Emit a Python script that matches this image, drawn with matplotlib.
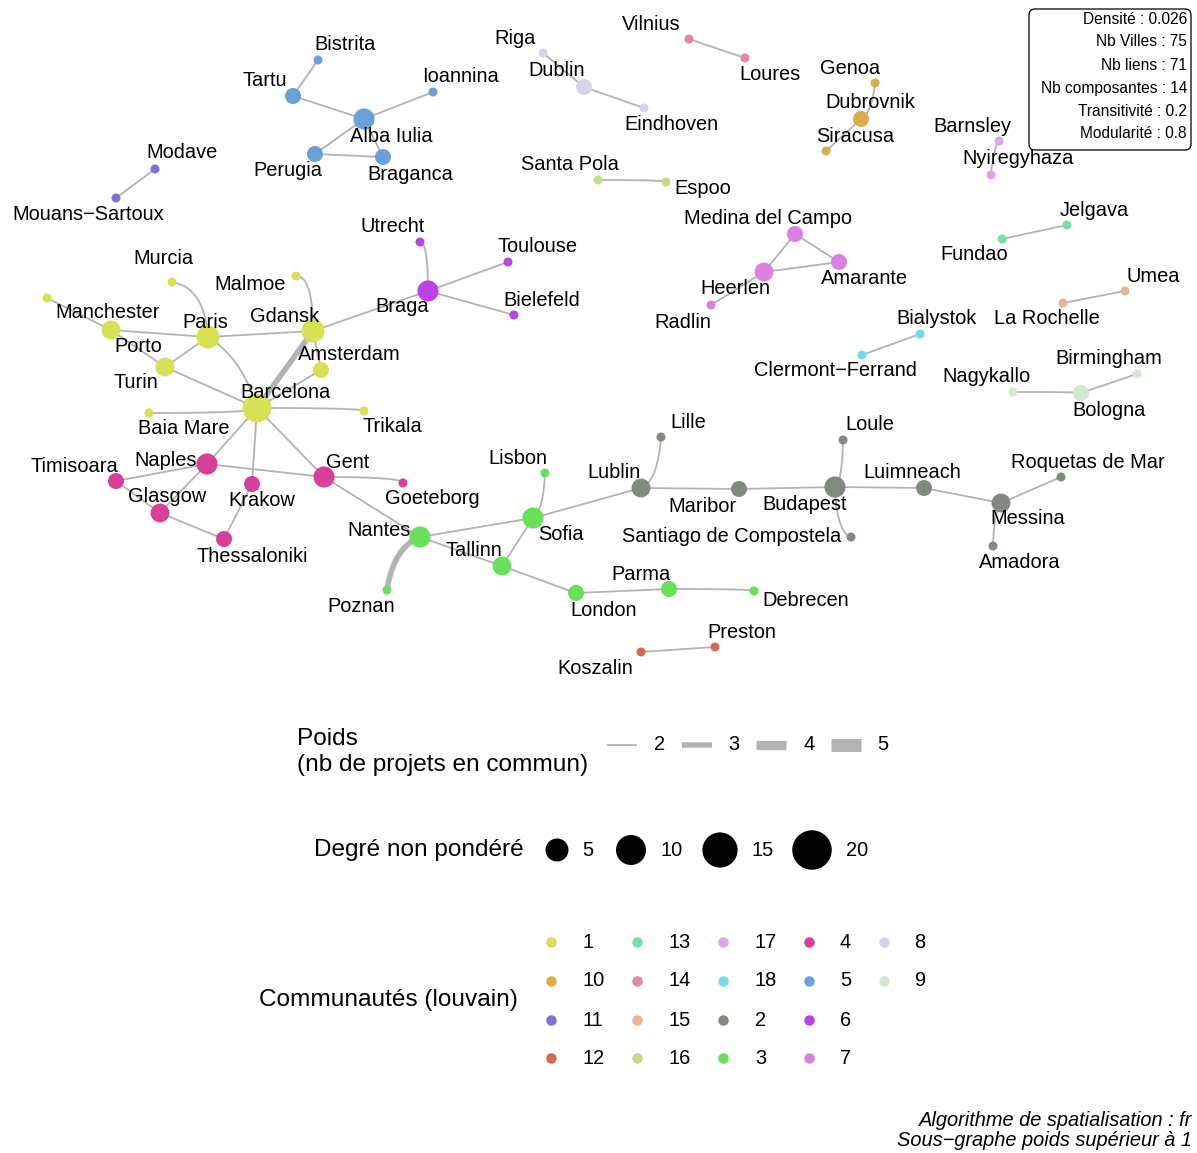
import numpy as np
import matplotlib
matplotlib.use("Agg")
import matplotlib.pyplot as plt
from matplotlib.patches import FancyBboxPatch

plt.rcParams['font.family'] = ['Liberation Sans', 'DejaVu Sans']

# --- data : villes (coordonnées du layout), communautés, liens ---
cities = ["Bistrita", "Tartu", "Alba Iulia", "Ioannina", "Perugia", "Braganca",
          "Modave", "Mouans-Sartoux",
          "Riga", "Dublin", "Eindhoven",
          "Vilnius", "Loures",
          "Genoa", "Dubrovnik", "Siracusa",
          "Barnsley", "Nyiregyhaza",
          "Santa Pola", "Espoo",
          "Medina del Campo", "Amarante", "Heerlen", "Radlin",
          "Fundao", "Jelgava",
          "La Rochelle", "Umea",
          "Clermont-Ferrand", "Bialystok",
          "Nagykallo", "Bologna", "Birmingham",
          "Koszalin", "Preston",
          "Utrecht", "Braga", "Toulouse", "Bielefeld",
          "Murcia", "Malmoe", "Manchester", "Porto", "Paris", "Turin", "Gdansk",
          "Amsterdam", "Barcelona", "Baia Mare", "Trikala",
          "Naples", "Timisoara", "Glasgow", "Krakow", "Thessaloniki", "Gent", "Goeteborg",
          "Nantes", "Poznan", "Sofia", "Lisbon", "Tallinn", "London", "Parma", "Debrecen",
          "Lublin", "Lille", "Maribor", "Budapest", "Loule", "Santiago de Compostela",
          "Luimneach", "Messina", "Roquetas de Mar", "Amadora"]
node_x = [318, 293, 364, 433, 315, 383,
          155, 116,
          543, 584, 644,
          689, 745,
          875, 861, 826,
          999, 991,
          598, 666,
          795, 839, 764, 711,
          1002, 1067,
          1063, 1125,
          862, 920,
          1013, 1081, 1137,
          641, 715,
          420, 428, 508, 514,
          172, 296, 47, 111, 208, 165, 313,
          321, 257, 149, 364,
          207, 116, 160, 252, 224, 324, 403,
          420, 387, 533, 545, 502, 576, 669, 754,
          641, 661, 739, 835, 843, 851,
          924, 1001, 1061, 993]
node_y = [60, 96, 119, 92, 154, 157,
          169, 198,
          53, 87, 108,
          39, 58,
          83, 119, 151,
          141, 175,
          180, 182,
          234, 262, 272, 305,
          239, 225,
          303, 291,
          355, 334,
          392, 393, 374,
          652, 647,
          242, 291, 262, 315,
          282, 276, 298, 330, 337, 367, 331,
          370, 408, 413, 411,
          464, 481, 513, 484, 539, 477, 483,
          537, 590, 518, 473, 566, 593, 589, 591,
          488, 437, 489, 487, 440, 537,
          488, 503, 477, 546]
community = [5, 5, 5, 5, 5, 5,
             11, 11,
             8, 8, 8,
             14, 14,
             10, 10, 10,
             17, 17,
             16, 16,
             7, 7, 7, 7,
             13, 13,
             15, 15,
             18, 18,
             9, 9, 9,
             12, 12,
             6, 6, 6, 6,
             1, 1, 1, 1, 1, 1, 1,
             1, 1, 1, 1,
             4, 4, 4, 4, 4, 4, 4,
             3, 3, 3, 3, 3, 3, 3, 3,
             2, 2, 2, 2, 2, 2,
             2, 2, 2, 2]

edge_from = ["Bistrita", "Tartu", "Alba Iulia", "Alba Iulia", "Alba Iulia", "Perugia",
             "Modave", "Riga", "Dublin", "Vilnius", "Dubrovnik", "Dubrovnik",
             "Barnsley", "Santa Pola", "Medina del Campo", "Medina del Campo", "Heerlen", "Heerlen",
             "Fundao", "La Rochelle", "Clermont-Ferrand", "Nagykallo", "Bologna", "Koszalin",
             "Utrecht", "Toulouse", "Bielefeld", "Gdansk",
             "Manchester", "Porto", "Porto", "Turin", "Turin", "Murcia", "Paris", "Paris",
             "Malmoe", "Gdansk", "Gdansk", "Amsterdam", "Baia Mare", "Barcelona",
             "Barcelona", "Barcelona", "Barcelona", "Naples", "Naples", "Naples", "Timisoara",
             "Glasgow", "Krakow", "Gent", "Gent",
             "Nantes", "Nantes", "Nantes", "Sofia", "Sofia", "Tallinn", "London", "Parma", "Sofia",
             "Lublin", "Lublin", "Maribor", "Budapest", "Santiago de Compostela", "Budapest",
             "Luimneach", "Messina", "Messina"]
edge_to = ["Tartu", "Alba Iulia", "Ioannina", "Perugia", "Braganca", "Braganca",
           "Mouans-Sartoux", "Dublin", "Eindhoven", "Loures", "Genoa", "Siracusa",
           "Nyiregyhaza", "Espoo", "Amarante", "Heerlen", "Amarante", "Radlin",
           "Jelgava", "Umea", "Bialystok", "Bologna", "Birmingham", "Preston",
           "Braga", "Braga", "Braga", "Braga",
           "Porto", "Paris", "Turin", "Paris", "Barcelona", "Paris", "Barcelona", "Gdansk",
           "Gdansk", "Barcelona", "Amsterdam", "Barcelona", "Barcelona", "Trikala",
           "Naples", "Krakow", "Gent", "Timisoara", "Glasgow", "Gent", "Glasgow",
           "Thessaloniki", "Thessaloniki", "Goeteborg", "Nantes",
           "Poznan", "Sofia", "Tallinn", "Lisbon", "Tallinn", "London", "Parma", "Debrecen", "Lublin",
           "Lille", "Maribor", "Budapest", "Loule", "Budapest", "Luimneach",
           "Messina", "Roquetas de Mar", "Amadora"]
# poids : 2 partout sauf deux liens à 3 projets
heavy_edges = {("Gdansk", "Barcelona"): 3, ("Nantes", "Poznan"): 3}
edge_weight = [heavy_edges.get((a, b), 2) for a, b in zip(edge_from, edge_to)]

stats_labels = ["Densité : 0.026", "Nb Villes : 75", "Nb liens : 71",
                "Nb composantes : 14", "Transitivité : 0.2", "Modularité : 0.8"]
size_breaks = [5, 10, 15, 20]
weight_breaks = [2, 3, 4, 5]
comm_order = [1, 10, 11, 12, 13, 14, 15, 16, 17, 18, 2, 3, 4, 5, 6, 7, 8, 9]

# --- styles ---
comm_colors = {1: '#d5e254', 2: '#808a7e', 3: '#68e05a', 4: '#d83f98', 5: '#6b9fd8',
               6: '#bb43e2', 7: '#de80e0', 8: '#d8d3e6', 9: '#d3e8d0', 10: '#dcab4a',
               11: '#7f70db', 12: '#d86a4c', 13: '#70e2a8', 14: '#e288a0', 15: '#e3b797',
               16: '#c2dc88', 17: '#d9a8e2', 18: '#72dde2'}
edge_col = '#b3b3b3'

# bends : tangente horizontale au départ, verticale à l'arrivée
bend = {("Murcia", "Paris"): 0.8, ("Malmoe", "Gdansk"): 1.0, ("Utrecht", "Braga"): 1.0,
        ("Sofia", "Lisbon"): 0.7, ("Lublin", "Lille"): 0.7, ("Budapest", "Loule"): 0.8,
        ("Santiago de Compostela", "Budapest"): 0.8, ("Nantes", "Poznan"): 0.6,
        ("Dubrovnik", "Genoa"): 0.6, ("Messina", "Amadora"): 0.7, ("Barcelona", "Trikala"): 1.0,
        ("Baia Mare", "Barcelona"): 1.0, ("Gent", "Goeteborg"): 1.0, ("Parma", "Debrecen"): 1.0,
        ("Santa Pola", "Espoo"): 1.0, ("Nagykallo", "Bologna"): 1.0,
        ("Barnsley", "Nyiregyhaza"): 0.5, ("Paris", "Barcelona"): 0.4}

label_pos = {"Bistrita": (345, 44), "Tartu": (265, 81), "Alba Iulia": (391, 136),
             "Ioannina": (461, 77), "Perugia": (288, 170), "Braganca": (410, 174),
             "Modave": (182, 153), "Mouans-Sartoux": (88, 215),
             "Riga": (515, 38), "Dublin": (557, 71), "Eindhoven": (671, 124),
             "Vilnius": (651, 24), "Loures": (770, 74),
             "Genoa": (850, 68), "Dubrovnik": (870, 103), "Siracusa": (855, 136),
             "Barnsley": (972, 126), "Nyiregyhaza": (1018, 159),
             "Santa Pola": (570, 165), "Espoo": (703, 188),
             "Medina del Campo": (768, 219), "Amarante": (864, 278), "Heerlen": (735, 289),
             "Radlin": (683, 322), "Fundao": (974, 255), "Jelgava": (1094, 211),
             "La Rochelle": (1047, 319), "Umea": (1153, 276),
             "Clermont-Ferrand": (835, 371), "Bialystok": (937, 318),
             "Nagykallo": (986, 377), "Bologna": (1109, 411), "Birmingham": (1109, 359),
             "Koszalin": (595, 668), "Preston": (742, 632),
             "Utrecht": (393, 226), "Braga": (402, 307), "Toulouse": (537, 247),
             "Bielefeld": (542, 300),
             "Murcia": (163, 258), "Malmoe": (250, 284), "Manchester": (108, 312),
             "Porto": (138, 346), "Paris": (205, 322), "Turin": (136, 383),
             "Gdansk": (285, 316), "Amsterdam": (349, 355), "Barcelona": (285, 392),
             "Baia Mare": (184, 429), "Trikala": (392, 427),
             "Naples": (166, 461), "Timisoara": (74, 466), "Glasgow": (167, 497),
             "Krakow": (262, 501), "Thessaloniki": (252, 556), "Gent": (348, 462),
             "Goeteborg": (432, 499),
             "Nantes": (379, 530), "Poznan": (361, 606), "Sofia": (561, 535),
             "Lisbon": (518, 458), "Tallinn": (474, 550), "London": (604, 610),
             "Parma": (641, 574), "Debrecen": (806, 601),
             "Lublin": (614, 472), "Lille": (688, 422), "Maribor": (702, 506),
             "Budapest": (805, 504), "Loule": (870, 425),
             "Santiago de Compostela": (732, 537), "Luimneach": (912, 473),
             "Messina": (1028, 519), "Roquetas de Mar": (1088, 462), "Amadora": (1020, 562)}

PX = 0.72  # points par pixel (dpi 100)


def node_diam(deg):
    # taille aire ~ degré (échelle de la légende)
    return 9 + 7 * np.sqrt(np.asarray(deg, dtype=float) - 1)


def edge_px(w):
    return 1.8 + (np.asarray(w, dtype=float) - 2) * (13 - 1.8) / 3


pos = {c: (x, y) for c, x, y in zip(cities, node_x, node_y)}
degree = {c: 0 for c in cities}
for a, b in zip(edge_from, edge_to):
    degree[a] += 1
    degree[b] += 1

fig = plt.figure(figsize=(11.97, 11.53), dpi=100)
ax = fig.add_axes([0, 0, 1, 1])
ax.set_xlim(0, 1197)
ax.set_ylim(1153, 0)
ax.axis('off')

# liens
t = np.linspace(0, 1, 60)[:, None]
for a, b, w in zip(edge_from, edge_to, edge_weight):
    p0 = np.array(pos[a], float)
    p2 = np.array(pos[b], float)
    s = bend.get((a, b), 0.0)
    mid = (p0 + p2) / 2
    corner = np.array([p2[0], p0[1]])
    c = mid + s * (corner - mid)
    pts = (1 - t) ** 2 * p0 + 2 * (1 - t) * t * c + t ** 2 * p2
    ax.plot(pts[:, 0], pts[:, 1], color=edge_col, lw=edge_px(w) * PX,
            solid_capstyle='round', zorder=1)

# noeuds
deg_arr = [degree[c] for c in cities]
ax.scatter(node_x, node_y, s=(node_diam(deg_arr) * PX) ** 2,
           c=[comm_colors[k] for k in community], linewidths=0, zorder=2)

# étiquettes
for c in cities:
    lx, ly = label_pos[c]
    ax.text(lx, ly, c.replace("-", "\u2212"), fontsize=14.4, ha='center', va='center', zorder=3)

# encadré des statistiques
box = FancyBboxPatch((1029, 9), 162, 141, boxstyle="round,pad=0,rounding_size=6",
                     fc='white', ec='black', lw=0.9, zorder=4)
ax.add_patch(box)
for i, s in enumerate(stats_labels):
    ax.text(1187, 19 + 23 * i, s, fontsize=11.2, ha='right', va='center', zorder=5)

# légende poids
ax.text(297, 739, "Poids", fontsize=17.6, ha='left', va='center')
ax.text(297, 765, "(nb de projets en commun)", fontsize=17.6, ha='left', va='center')
for i, w in enumerate(weight_breaks):
    x0 = 607 + 74.5 * i
    ax.plot([x0, x0 + 30], [745, 745], color=edge_col, lw=edge_px(w) * PX,
            solid_capstyle='butt')
    ax.text(x0 + 47, 745, str(w), fontsize=14.4, ha='left', va='center')

# légende degré
ax.text(314, 850, "Degré non pondéré", fontsize=17.6, ha='left', va='center')
deg_x = [557, 631, 720, 812]
ax.scatter(deg_x, [850] * 4, s=(node_diam(size_breaks) * PX) ** 2, c='black', linewidths=0)
for xx, d, b in zip(deg_x, node_diam(size_breaks), size_breaks):
    ax.text(xx + d / 2 + 14, 850, str(b), fontsize=14.4, ha='left', va='center')

# légende communautés
ax.text(259, 1000, "Communautés (louvain)", fontsize=17.6, ha='left', va='center')
col_mx = [551, 637, 723, 809, 884]
col_tx = [583, 669, 755, 840, 914]
row_y = [942, 981, 1020, 1058]
for i, k in enumerate(comm_order):
    ci, ri = divmod(i, 4)
    ax.scatter(col_mx[ci], row_y[ri], s=(10.5 * PX) ** 2, c=comm_colors[k], linewidths=0)
    ax.text(col_tx[ci], row_y[ri], str(k), fontsize=14.4, ha='left', va='center')

# légende de bas de page
ax.text(1192, 1120, "Algorithme de spatialisation : fr", fontsize=14.4, style='italic',
        ha='right', va='center')
ax.text(1192, 1141, "Sous\u2212graphe poids supérieur à 1", fontsize=14.4, style='italic',
        ha='right', va='center')

fig.savefig("out.png", dpi=100)
